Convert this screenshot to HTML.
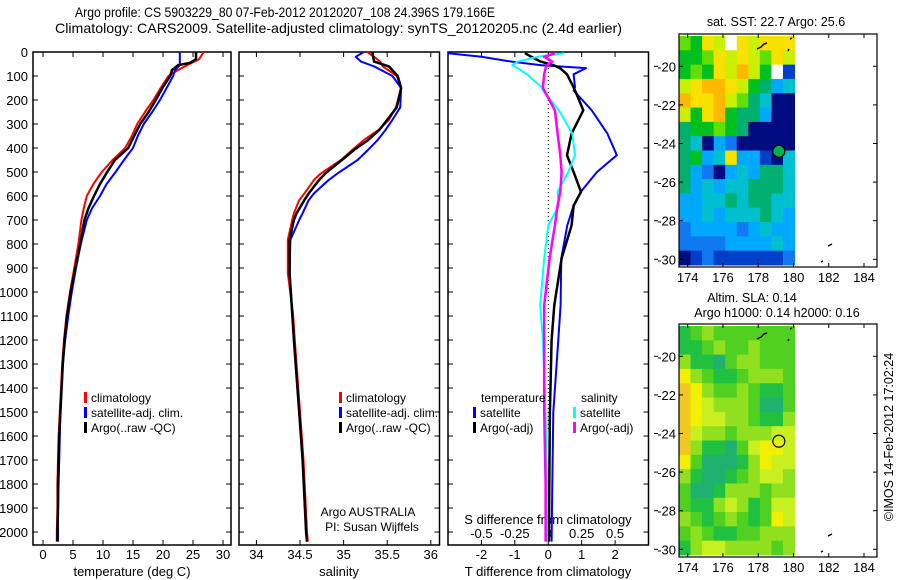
<!DOCTYPE html>
<html><head><meta charset="utf-8"><style>
html,body{margin:0;padding:0;background:#fff;}
svg{display:block;font-family:"Liberation Sans",sans-serif;}
</style></head><body>
<svg id="chart" width="900" height="580" viewBox="0 0 900 580" xmlns="http://www.w3.org/2000/svg">
<text x="75" y="17" font-size="14" textLength="420" lengthAdjust="spacingAndGlyphs">Argo profile: CS 5903229_80 07-Feb-2012 20120207_108 24.396S 179.166E</text>
<text x="55" y="33" font-size="14" textLength="567" lengthAdjust="spacingAndGlyphs">Climatology: CARS2009. Satellite-adjusted climatology: synTS_20120205.nc (2.4d earlier)</text>
<g id="g"></g>
</svg>
<script>
// ---- profile data (depth in m) ----
const tDepth = [0,30,45,55,75,100,150,200,250,300,350,400,450,500,550,600,650,700,800,900,1000,1100,1200,1300,1400,1500,1600,1700,1800,1900,2000,2040];
const tempClim = [26.8,26.0,24.8,24.0,22.5,20.9,19.6,18.4,17.0,15.7,14.8,13.7,11.6,9.8,8.4,7.3,6.8,6.4,5.9,5.2,4.5,3.9,3.5,3.2,3.0,2.8,2.6,2.5,2.4,2.4,2.3,2.3];
const tempSat = [22.8,22.8,22.8,22.8,22.0,21.7,20.6,19.5,18.2,16.8,15.8,15.0,13.5,12.1,10.6,9.5,8.2,7.3,6.3,5.5,4.8,4.2,3.7,3.3,3.1,2.9,2.8,2.7,2.6,2.5,2.5,2.5];
const tempArgo = [25.5,25.5,24.5,22.5,21.5,21.2,19.9,18.8,17.6,16.2,15.2,14.2,12.0,10.7,9.5,8.5,7.6,6.9,6.2,5.4,4.6,4.0,3.6,3.3,3.1,2.9,2.7,2.6,2.5,2.5,2.4,2.4];
const sDepth = [0,20,40,60,100,150,230,283,325,367,408,450,506,533,589,617,672,700,783,922,1089,1200,1500,1700,2000,2040];
const salClim = [35.27,35.35,35.42,35.45,35.61,35.66,35.60,35.52,35.40,35.23,35.10,34.97,34.74,34.66,34.55,34.49,34.43,34.41,34.36,34.36,34.42,34.44,34.50,34.54,34.58,34.59];
const salSat = [35.23,35.14,35.20,35.35,35.56,35.66,35.65,35.56,35.48,35.39,35.28,35.16,34.93,34.83,34.66,34.60,34.53,34.49,34.39,34.38,34.41,34.43,34.49,34.53,34.57,34.58];
const salArgo = [35.33,35.34,35.35,35.52,35.62,35.66,35.61,35.50,35.41,35.28,35.12,34.98,34.79,34.72,34.60,34.55,34.46,34.43,34.38,34.38,34.41,34.43,34.49,34.53,34.57,34.58];
// ---- difference panel ----
const dDepth = [5,20,40,55,67,93,147,160,243,340,430,500,583,640,722,860,1055,1200,1500,1800,2040];
const dTSat = [-3.0,-2.0,-1.1,-0.2,1.13,0.76,0.8,0.76,1.3,1.77,2.05,1.46,0.97,0.76,0.57,0.39,0.37,0.30,0.15,0.12,0.1];
const dTArgo = [-0.7,-0.5,-0.23,0.16,0.35,0.56,0.76,0.8,1.05,0.7,0.56,0.76,0.98,0.76,0.7,0.4,0.18,0.1,0.05,0.03,0.02];
const dSSat = [0.12,-0.08,-0.23,-0.27,-0.23,-0.16,-0.05,-0.04,0.08,0.18,0.20,0.15,0.07,0.08,0.0,-0.03,-0.06,-0.04,-0.02,-0.01,-0.01];
const dSArgo = [0.05,-0.03,0.03,-0.01,-0.02,-0.03,-0.04,-0.03,0.05,0.07,0.09,0.1,0.09,0.07,0.05,0.01,-0.03,-0.03,-0.03,-0.02,-0.02];
// ---- ticks ----
const depthTicks = [0,100,200,300,400,500,600,700,800,900,1000,1100,1200,1300,1400,1500,1600,1700,1800,1900,2000];
const tempTicks = [0,5,10,15,20,25,30];
const salTicks = [34,34.5,35,35.5,36];
const tDiffTicks = [-2,-1,0,1,2];
const sDiffTicks = [-0.5,-0.25,0,0.25,0.5];
const sDiffLabels = ["-0.5","-0.25","0","0.25","0.5"];
const lonTicks = [174,176,178,180,182,184];
const latTicks = [-20,-22,-24,-26,-28,-30];
// ---- maps (rows north->south, 10 cols 173.6..180.1E) ----
const sstGrid = ["7698w98999","6679898798","67698a86w1","89aa986534","a99a875400","869a655300","5667650000","5403200000","5634933104","5320343554","5343445554","3344545544","3343444543","2333323433","2222333343","0121111112"];
const slaGrid = ["1232222222","1123223222","3110233222","5321123332","6532232112","6543332002","6544332113","6433233344","6311024554","5200013544","3100123443","2001333233","2113431244","3212321254","2321122333","1344333323"];
const sstColors = {"0":"#000c80","1":"#0040c8","2":"#1078f0","3":"#00a8ff","4":"#00c0d0","5":"#00b070","6":"#00c020","7":"#60e000","8":"#c8f000","9":"#f8e000","a":"#ffb800","w":"#ffffff"};
const slaColors = {"0":"#20b070","1":"#20c040","2":"#50d020","3":"#90e020","4":"#c8f020","5":"#f0f000","6":"#f0c820"};

const NS="http://www.w3.org/2000/svg";
const G=document.getElementById('g');
function mk(tag,attrs,parent){const e=document.createElementNS(NS,tag);for(const k in attrs)e.setAttribute(k,attrs[k]);(parent||G).appendChild(e);return e;}
function lin(d0,d1,r0,r1){return v=>r0+(v-d0)*(r1-r0)/(d1-d0);}
const yD = lin(0,2054,52,545);

const panels=[
 {x0:33,x1:231,name:'temperature-panel'},
 {x0:239,x1:439.5,name:'salinity-panel'},
 {x0:448,x1:648.5,name:'difference-panel'}];
const xT=lin(-1.67,31.33,33,231), xS=lin(33.8,36.1,239,439.5), xdT=lin(-3,3,448,648.5), xdS=lin(-0.75,0.75,448,648.5);

function txt(x,y,s,size,anchor,name,extra){const t=mk('text',Object.assign({x:x,y:y,'font-size':size,'text-anchor':anchor||'start'},extra||{}));t.textContent=s;
 
 
 return t;}
function line(xs,ys,color,w,name){let d='';for(let i=0;i<xs.length;i++)d+=(i?'L':'M')+xs[i].toFixed(1)+' '+ys[i].toFixed(1);
 const p=mk('path',{d:d,fill:'none',stroke:color,'stroke-width':w,'stroke-linejoin':'round'});
 
 
 return p;}

panels.forEach(p=>{
 const r=mk('rect',{x:p.x0,y:52,width:p.x1-p.x0,height:493,fill:'none',stroke:'#000','stroke-width':1.5});
 
 
 depthTicks.forEach(d=>{mk('line',{x1:p.x0,x2:p.x0+5,y1:yD(d),y2:yD(d),stroke:'#000'});mk('line',{x1:p.x1,x2:p.x1-5,y1:yD(d),y2:yD(d),stroke:'#000'});});
});
depthTicks.forEach(d=>txt(28,yD(d)+5,String(d),13,'end','depth-tick-label'));
tempTicks.forEach(v=>{mk('line',{x1:xT(v),x2:xT(v),y1:545,y2:540,stroke:'#000'});mk('line',{x1:xT(v),x2:xT(v),y1:52,y2:57,stroke:'#000'});txt(xT(v),559,String(v),13,'middle','temperature-tick-label');});
salTicks.forEach(v=>{mk('line',{x1:xS(v),x2:xS(v),y1:545,y2:540,stroke:'#000'});mk('line',{x1:xS(v),x2:xS(v),y1:52,y2:57,stroke:'#000'});txt(xS(v),559,String(v),13,'middle','salinity-tick-label');});
tDiffTicks.forEach(v=>{mk('line',{x1:xdT(v),x2:xdT(v),y1:545,y2:540,stroke:'#000'});txt(xdT(v),559,String(v),13,'middle','t-diff-tick-label');});
sDiffTicks.forEach((v,i)=>{mk('line',{x1:xdS(v),x2:xdS(v),y1:52,y2:57,stroke:'#000'});txt(xdS(v),538,sDiffLabels[i],13,'middle','s-diff-tick-label');});
txt(132,576,'temperature (deg C)',13,'middle','temperature-axis-title');
txt(339,576,'salinity',13,'middle','salinity-axis-title');
txt(548,576,'T difference from climatology',13,'middle','t-diff-axis-title');
txt(548,524,'S difference from climatology',13,'middle','s-diff-axis-title');
txt(368,516,'Argo AUSTRALIA',12,'middle','argo-australia-label');
txt(372,531,'PI: Susan Wijffels',12,'middle','pi-label');
mk('line',{x1:xdT(0),x2:xdT(0),y1:60,y2:430,stroke:'#000','stroke-dasharray':'1,3'});

const yt=tDepth.map(yD), ys=sDepth.map(yD), yd=dDepth.map(yD);
line(tempClim.map(xT),yt,'#ff0000',2,'temp-climatology-line');
line(tempSat.map(xT),yt,'#0000ff',2,'temp-satellite-line');
line(tempArgo.map(xT),yt,'#000',2.5,'temp-argo-line');
line(salClim.map(xS),ys,'#ff0000',2,'sal-climatology-line');
line(salSat.map(xS),ys,'#0000ff',2,'sal-satellite-line');
line(salArgo.map(xS),ys,'#000',2.5,'sal-argo-line');
line(dTSat.map(xdT),yd,'#0000ff',2,'t-diff-satellite-line');
line(dTArgo.map(xdT),yd,'#000',2.5,'t-diff-argo-line');
line(dSSat.map(xdS),yd,'#00ffff',2,'s-diff-satellite-line');
line(dSArgo.map(xdS),yd,'#ff00ff',2.5,'s-diff-argo-line');

function legendEntry(x,y,color,label,name){
 const b=mk('rect',{x:x,y:y-10,width:3,height:11,fill:color});
 
 
 txt(x+7,y,label,12,'start',name);}
[[84,'climatology','#ff0000'],[84,'satellite-adj. clim.','#0000ff'],[84,'Argo(..raw -QC)','#000']].forEach((e,i)=>legendEntry(e[0],402+i*15,e[2],e[1],'legend-entry-temp-'+i));
[[339,'climatology','#ff0000'],[339,'satellite-adj. clim.','#0000ff'],[339,'Argo(..raw -QC)','#000']].forEach((e,i)=>legendEntry(e[0],402+i*15,e[2],e[1],'legend-entry-sal-'+i));
txt(481,402,'temperature',12,'start','legend-temperature-heading');
txt(581,402,'salinity',12,'start','legend-salinity-heading');
legendEntry(473,417,'#0000ff','satellite','legend-t-satellite');
legendEntry(473,432,'#000','Argo(-adj)','legend-t-argo');
legendEntry(573,417,'#00ffff','satellite','legend-s-satellite');
legendEntry(573,432,'#ff00ff','Argo(-adj)','legend-s-argo');

// ---- maps ----
function drawMap(top,grid,colors,name,fillCircle){
 const lonX=lin(174,184,687.7,864), latY=lin(-20,-30,top+32.3,top+225.3);
 const x0=679,x1=877,y0=top,y1=top+233;
 const cols=10, rows=grid.length, cx0=lin(0,cols,679,794.5), cy0=lin(0,rows,top+2,top+231);
 for(let r=0;r<rows;r++)for(let c=0;c<cols;c++){
  const cell=mk('rect',{x:cx0(c),y:cy0(r),width:cx0(1)-cx0(0)+0.5,height:cy0(1)-cy0(0)+0.5,fill:colors[grid[r][c]]});
  
  
 }
 const f=mk('rect',{x:x0,y:y0,width:x1-x0,height:y1-y0,fill:'none',stroke:'#000','stroke-width':1.2});
 
 
 lonTicks.forEach(v=>{mk('line',{x1:lonX(v),x2:lonX(v),y1:y1,y2:y1-4,stroke:'#000'});mk('line',{x1:lonX(v),x2:lonX(v),y1:y0,y2:y0+4,stroke:'#000'});txt(lonX(v),y1+15,String(v),13,'middle',name+'-lon-label');});
 latTicks.forEach(v=>{mk('line',{x1:x0,x2:x0+4,y1:latY(v),y2:latY(v),stroke:'#000'});mk('line',{x1:x1,x2:x1-4,y1:latY(v),y2:latY(v),stroke:'#000'});mk('line',{x1:654,x2:658,y1:latY(v),y2:latY(v),stroke:'#000'});txt(676,latY(v)+5,String(v),13,'end',name+'-lat-label');});
 mk('path',{d:`M757 ${top+15} l4 -2 l3 -3 l3 -1 M790 ${top+5} l2 -1 M788 ${top+17} l1 -2 M828 ${top+212} l4 -2 M821 ${top+228} l2 -1`,stroke:'#000','stroke-width':1.5,fill:'none'});
 const c=mk('circle',{cx:lonX(179.17),cy:latY(-24.4),r:6,fill:fillCircle,stroke:'#000','stroke-width':1.2});
 
 
}
drawMap(34,sstGrid,sstColors,'sst-map','#00b050');
drawMap(324,slaGrid,slaColors,'sla-map','none');
txt(776,26,'sat. SST: 22.7 Argo: 25.6',12.5,'middle','sst-map-title');
txt(752,302,'Altim. SLA: 0.14',12.5,'middle','sla-map-title');
txt(777,317,'Argo h1000: 0.14 h2000: 0.16',12.5,'middle','sla-map-subtitle');
txt(0,0,'©IMOS 14-Feb-2012 17:02:24',12.5,'middle','imos-credit',{transform:'translate(893,437) rotate(-90)'});
</script>
</body></html>
